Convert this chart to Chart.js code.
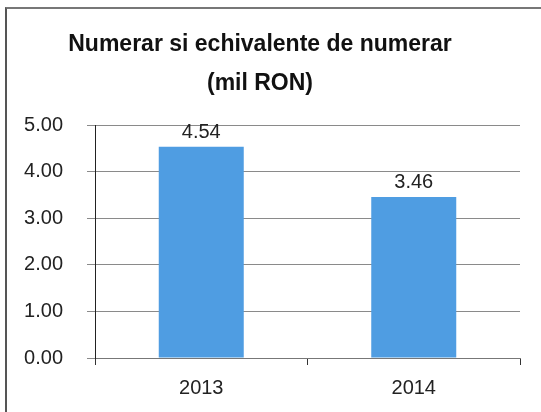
<!DOCTYPE html>
<html>
<head>
<meta charset="utf-8">
<script src="https://cdn.jsdelivr.net/npm/chart.js@4"></script>
<style>
  html, body { margin: 0; padding: 0; background: #fff; overflow: hidden; }
  #frame { position: absolute; left: 5px; top: 7px; width: 600px; height: 500px;
           border-left: 2px solid #555; border-top: 2px solid #777; }
  #myChart { position: absolute; left: 0; top: 0; }
</style>
</head>
<body>
<div id="frame"></div>
<canvas id="myChart" width="541" height="412"></canvas>
<script>
const years = ["2013", "2014"];
const cashValues = [4.54, 3.46];
const titleLines = ["Numerar si echivalente de numerar", "(mil RON)"];

const FONT = "'Liberation Sans', Arial, sans-serif";

// writes the value above each bar
const valueLabels = {
  id: "valueLabels",
  afterDatasetsDraw(chart)
  {
    const c = chart.ctx;
    c.save();
    c.font = "20px " + FONT;
    c.fillStyle = "#222";
    c.textAlign = "center";
    c.textBaseline = "alphabetic";
    chart.getDatasetMeta(0).data.forEach((bar, i) => {
      c.fillText(cashValues[i].toFixed(2), bar.x, bar.y - 9);
    });
    c.restore();
  },
};

new Chart(document.getElementById("myChart"), {
  type: "bar",
  data: {
    labels: years,
    datasets: [{
      data: cashValues,
      backgroundColor: "#4f9de2",
      borderWidth: 0,
      barPercentage: 0.4,
      categoryPercentage: 1,
    }],
  },
  plugins: [valueLabels],
  options: {
    responsive: false,
    animation: false,
    devicePixelRatio: 1,
    layout: { padding: { left: 0, right: 21, top: 0, bottom: 0 } },
    plugins: {
      legend: { display: false },
      tooltip: { enabled: false },
      title: {
        display: true,
        text: titleLines,
        color: "#111",
        font: { family: FONT, size: 23, weight: "bold", lineHeight: 1.66 },
        padding: { top: 26, bottom: 23 },
      },
    },
    scales: {
      x: {
        afterFit: (scale) => { scale.height = 54; },
        grid: {
          offset: true,
          drawOnChartArea: false,
          drawTicks: true,
          tickLength: 7,
          color: "#333",
        },
        border: { color: "#777", width: 1 },
        ticks: {
          color: "#222",
          padding: 11,
          font: { family: FONT, size: 20 },
        },
      },
      y: {
        min: 0,
        max: 5,
        afterFit: (scale) => { scale.width = 95; },
        grid: {
          color: "#8a8a8a",
          tickLength: 8,
        },
        border: { color: "#222", width: 1 },
        ticks: {
          stepSize: 1,
          color: "#222",
          padding: 24,
          font: { family: FONT, size: 20 },
          callback: (v) => v.toFixed(2),
        },
      },
    },
  },
});
</script>
</body>
</html>
